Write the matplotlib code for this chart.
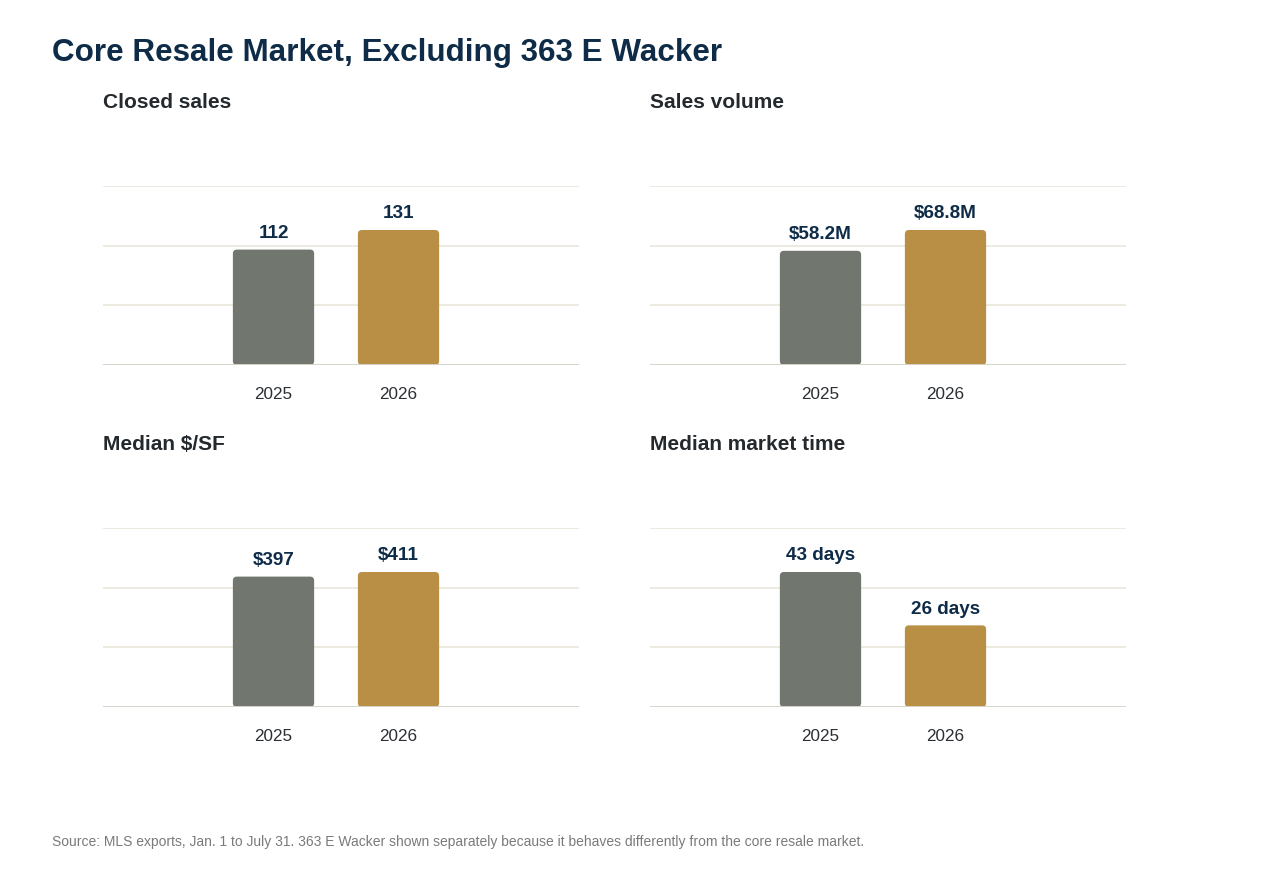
import matplotlib
matplotlib.use("Agg")
import matplotlib.pyplot as plt
from matplotlib.patches import FancyBboxPatch

plt.rcParams['font.family'] = ['Liberation Sans', 'DejaVu Sans']

# data
years = ["2025", "2026"]
panel_titles = ["Closed sales", "Sales volume", "Median $/SF", "Median market time"]
closed_sales = [112, 131]
sales_volume = [58.2, 68.8]  # $M
median_psf = [397, 411]
market_time = [43, 26]  # days
panel_values = [closed_sales, sales_volume, median_psf, market_time]
panel_labels = [
    ["112", "131"],
    ["$58.2M", "$68.8M"],
    ["$397", "$411"],
    ["43 days", "26 days"],
]

NAVY = "#0E2B47"
GRAY_BAR = "#71766E"
GOLD_BAR = "#B98F45"
GRID = "#E9E6DC"
BASE = "#D6D3CA"

W, H = 1280, 884
fig = plt.figure(figsize=(W / 100, H / 100), dpi=100)
fig.patch.set_facecolor("white")

fig.text(52 / W, 1 - 53 / H, "Core Resale Market, Excluding 363 E Wacker",
         fontsize=22.6, fontweight="bold", color=NAVY, va="center", ha="left")

# axes boxes in pixels: left, top
boxes = [(103, 186), (650, 186), (103, 528), (650, 528)]
ax_w, ax_h = 476, 179

for i, (lx, ty) in enumerate(boxes):
    ax = fig.add_axes([lx / W, 1 - (ty + ax_h) / H, ax_w / W, ax_h / H])
    vals = panel_values[i]
    ymax = max(vals) * 1.326
    ax.set_xlim(-1.364, 2.444)
    ax.set_ylim(0, ymax)
    for s in ax.spines.values():
        s.set_visible(False)
    for k in range(1, 4):
        ax.axhline(ymax * k / 3, color=GRID, lw=1.2, zorder=0)
    ax.axhline(0, color=BASE, lw=1.4, zorder=3)

    bars = ax.bar([0, 1], vals, width=0.65, color=[GRAY_BAR, GOLD_BAR])
    # rounded corners
    px_x = 3.808 / ax_w  # x data units per pixel
    px_y = ymax / ax_h
    for b in bars:
        b.set_visible(False)
        r = FancyBboxPatch((b.get_x(), 0), b.get_width(), b.get_height(),
                           boxstyle="round,pad=0,rounding_size=%f" % (4 * px_x),
                           mutation_aspect=px_y / px_x,
                           facecolor=b.get_facecolor(), edgecolor="none", zorder=2)
        ax.add_patch(r)

    for x, v, lab in zip([0, 1], vals, panel_labels[i]):
        ax.annotate(lab, (x, v), xytext=(0, 5.5), textcoords="offset points",
                    ha="center", va="bottom", fontsize=13.6, fontweight="bold", color=NAVY)

    ax.set_xticks([0, 1])
    ax.set_xticklabels(years, fontsize=12.3, color="#2B2F33")
    ax.tick_params(axis="x", length=0, pad=15.5)
    ax.set_yticks([])

    fig.text(lx / W, 1 - (ty - 83) / H, panel_titles[i], fontsize=15,
             fontweight="bold", color="#24292E", ha="left", va="center")

fig.text(52 / W, 1 - 842 / H,
         "Source: MLS exports, Jan. 1 to July 31. 363 E Wacker shown separately because it behaves differently from the core resale market.",
         fontsize=10, color="#7A7A7A", ha="left", va="center")

fig.savefig("out.png", dpi=100, facecolor="white")
